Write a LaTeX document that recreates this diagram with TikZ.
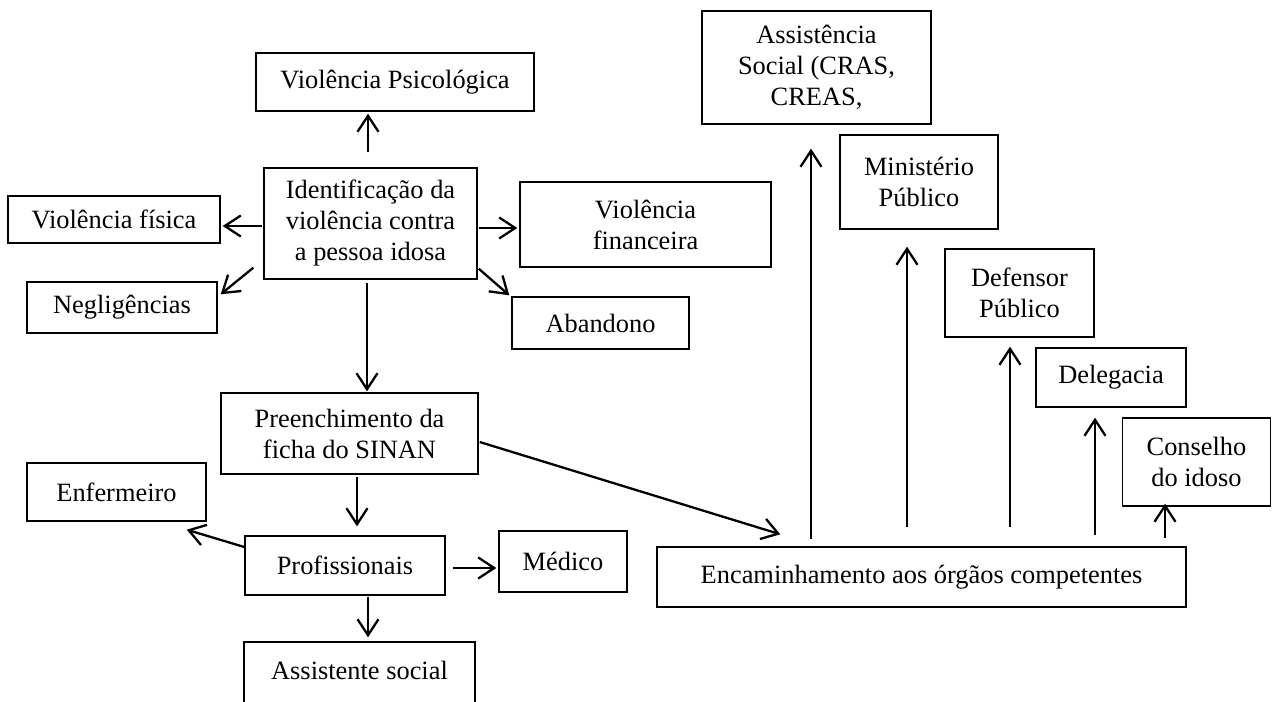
\documentclass[tikz,border=0pt]{standalone}
\usepackage{fontspec}
\setmainfont{Liberation Serif}
\usetikzlibrary{arrows.meta,calc}
\begin{document}
\begin{tikzpicture}[x=0.5pt,y=-0.5pt,
  box/.style={draw,line width=0.7pt,inner sep=1pt,align=center,font=\fontsize{13.2pt}{15.5pt}\selectfont},
  lbl/.style={inner sep=0pt,align=center,font=\fontsize{13.2pt}{15.5pt}\selectfont},
  arr/.style={line width=1.15pt,-{Straight Barb[length=8pt,width=10.5pt,line width=1.15pt]}}]
\useasboundingbox (0,0) rectangle (1272,701);
% left part
\node[box,minimum width=139pt,minimum height=29pt] (vp) at (395,82) {Violência Psicológica};
\node[box,minimum width=106.5pt,minimum height=55.5pt] (idt) at (370.5,223.5) {Identificação da\\violência contra\\a pessoa idosa};
\node[box,minimum width=106pt,minimum height=23.5pt] (vf) at (114,219.5) {Violência física};
\node[box,minimum width=125.5pt,minimum height=42.5pt] (vfin) at (645.5,224.5) {Violência\\financeira};
\node[box,minimum width=95pt,minimum height=25.5pt] (neg) at (122,307.5) {Negligências};
\node[box,minimum width=88.5pt,minimum height=26pt] (aban) at (600.5,323) {Abandono};
\node[box,minimum width=128.5pt,minimum height=40.5pt] (pre) at (349.5,433.5) {Preenchimento da\\ficha do SINAN};
\node[box,minimum width=89.5pt,minimum height=29pt] (enf) at (116.5,492) {Enfermeiro};
\node[box,minimum width=100pt,minimum height=29.5pt] (prof) at (345,565.5) {Profissionais};
\node[box,minimum width=64pt,minimum height=30.5pt] (med) at (563,561.5) {Médico};
\node[box,minimum width=115.5pt,minimum height=39pt] (asoc) at (359.5,681) {};
\node[lbl] (asoct) at (359.5,670) {Assistente social};
% right part
\node[box,minimum width=264.5pt,minimum height=30pt] (enc) at (921.5,577) {Encaminhamento aos órgãos competentes};
\node[box,minimum width=114.5pt,minimum height=56.5pt] (asc) at (816.5,67.5) {Assistência\\Social (CRAS,\\CREAS,};
\node[box,minimum width=79pt,minimum height=47pt] (min) at (919,182) {Ministério\\Público};
\node[box,minimum width=74.5pt,minimum height=44pt] (def) at (1019.5,293) {Defensor\\Público};
\node[box,minimum width=75pt,minimum height=29.5pt] (del) at (1111,377.5) {Delegacia};
\node[box,minimum width=74pt,minimum height=44pt] (con) at (1196.5,462) {Conselho\\do idoso};
% connectors
\draw[arr] ($(idt.north)+(-2.5,-15)$) -- ($(vp.south)+(-27,2)$);
\draw[arr] ($(idt.west)+(-1,2.5)$) -- ($(vf.east)+(2,6.5)$);
\draw[arr] ($(idt.east)+(1,4.5)$) -- ($(vfin.west)+(-2,3.5)$);
\draw[arr] ($(idt.south west)+(-10,-12)$) -- ($(neg.north east)+(3,13)$);
\draw[arr] ($(idt.south east)+(1,-11)$) -- ($(aban.north west)+(-2,-1)$);
\draw[arr] ($(idt.south)+(-3.5,3)$) -- ($(pre.north)+(17.5,-1)$);
\draw[arr] ($(pre.south)+(7.5,2)$) -- ($(prof.north)+(12,-9)$);
\draw[arr] ($(prof.west)+(0,-18.5)$) -- ($(enf.south east)+(-20,8)$);
\draw[arr] ($(prof.east)+(7,2.5)$) -- ($(med.west)+(-2,6.5)$);
\draw[arr] ($(prof.south)+(23,1)$) -- ($(asoc.north)+(8.5,-4)$);
\draw[arr] ($(pre.east)+(1,8.5)$) -- ($(enc.north west)+(124,-12)$);
\draw[arr] ($(enc.north)+(-110.5,-7)$) -- ($(asc.south)+(-5.5,24)$);
\draw[arr] ($(enc.north)+(-14.5,-19)$) -- ($(min.south)+(-12,17)$);
\draw[arr] ($(enc.north)+(88.5,-19)$) -- ($(def.south)+(-9.5,9)$);
\draw[arr] ($(enc.north)+(173.5,-11)$) -- ($(del.south)+(-16,10)$);
\draw[arr] ($(enc.north)+(243.5,-8)$) -- ($(con.south)+(-31.5,-3)$);
\end{tikzpicture}
\end{document}
